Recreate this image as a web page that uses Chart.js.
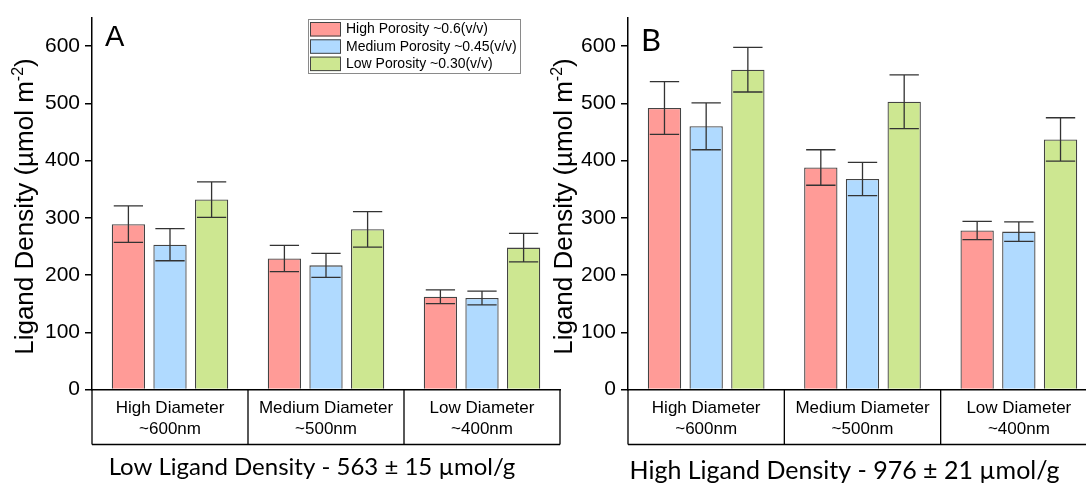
<!DOCTYPE html>
<html>
<head>
<meta charset="utf-8">
<script src="https://cdn.jsdelivr.net/npm/chart.js@4.4.0/dist/chart.umd.min.js"></script>
<style>
  html, body { margin: 0; padding: 0; background: #fff; overflow: hidden; }
  body { width: 1086px; height: 486px; position: relative; }
  #chartA { position: absolute; left: 0; top: 0; }
  #chartB { position: absolute; left: 540px; top: 0; }
</style>
</head>
<body>
<canvas id="chartA" width="566" height="486"></canvas>
<canvas id="chartB" width="560" height="486"></canvas>
<script>
// categories and series
var categories = [['High Diameter', '~600nm'], ['Medium Diameter', '~500nm'], ['Low Diameter', '~400nm']];
var seriesNames = ['High Porosity ~0.6(v/v)', 'Medium Porosity ~0.45(v/v)', 'Low Porosity ~0.30(v/v)'];
var yTicks = [0, 100, 200, 300, 400, 500, 600];

// A: low ligand density
var lowHighPor = [289, 229, 162];
var lowMedPor = [253, 217, 160];
var lowLowPor = [332, 280, 248];
var lowHighPorErr = [32, 23, 12];
var lowMedPorErr = [28, 21, 12];
var lowLowPorErr = [31, 31, 25];

// B: high ligand density
var highHighPor = [492, 388, 278];
var highMedPor = [460, 368, 276];
var highLowPor = [559, 503, 437];
var highHighPorErr = [46, 31, 16];
var highMedPorErr = [41, 29, 17];
var highLowPorErr = [39, 47, 38];

var fills = ['#ff9b97', '#b0daff', '#cde791'];
var edge = '#444444';
var sans = '"Liberation Sans", Arial, sans-serif';

// error bars drawn from each dataset's errors array
var errorBars = {
  id: 'errorBars',
  afterDatasetsDraw: function(chart) {
    var ctx = chart.ctx, y = chart.scales.y;
    chart.data.datasets.forEach(function(ds, i) {
      chart.getDatasetMeta(i).data.forEach(function(bar, j) {
        var top = y.getPixelForValue(ds.data[j] + ds.errors[j]);
        var bot = y.getPixelForValue(ds.data[j] - ds.errors[j]);
        var half = bar.width / 2 - 2;
        ctx.save();
        ctx.strokeStyle = '#333';
        ctx.lineWidth = 1.3;
        ctx.beginPath();
        ctx.moveTo(bar.x, top); ctx.lineTo(bar.x, bot);
        ctx.moveTo(bar.x - half, top); ctx.lineTo(bar.x + half, top);
        ctx.moveTo(bar.x - half, bot); ctx.lineTo(bar.x + half, bot);
        ctx.stroke();
        ctx.restore();
      });
    });
  }
};

// boxed category cells under the x axis
var categoryBox = {
  id: 'categoryBox',
  afterDraw: function(chart, args, opts) {
    var x = chart.scales.x, ctx = chart.ctx;
    var n = x.ticks.length, step = (x.right - x.left) / n;
    var bottom = x.top + opts.depth;
    ctx.save();
    ctx.strokeStyle = '#000';
    ctx.lineWidth = 1.3;
    ctx.beginPath();
    for (var i = 0; i <= n; i++) {
      var px = x.left + i * step;
      ctx.moveTo(px, x.top); ctx.lineTo(px, bottom);
    }
    ctx.moveTo(x.left, bottom); ctx.lineTo(x.right, bottom);
    ctx.stroke();
    ctx.restore();
  }
};

// panel letter, axis titles and boxed legend
var panelDeco = {
  id: 'panelDeco',
  afterDraw: function(chart, args, opts) {
    var ctx = chart.ctx, xs = chart.scales.x, ys = chart.scales.y;
    ctx.save();
    ctx.fillStyle = '#000';
    ctx.font = opts.letterFont;
    ctx.textBaseline = 'top';
    ctx.fillText(opts.letter, opts.letterX, opts.letterY);

    // x title
    ctx.font = opts.xTitleFont;
    ctx.textAlign = 'center';
    ctx.textBaseline = 'middle';
    ctx.fillText(opts.xTitle, (xs.left + xs.right) / 2 + opts.xTitleShift, opts.xTitleY);

    // y title with superscript
    var main = 'Ligand Density (\u00b5mol m', sup = '-2', close = ')';
    ctx.font = '26px ' + sans;
    var w1 = ctx.measureText(main).width, w3 = ctx.measureText(close).width;
    ctx.font = '16px ' + sans;
    var w2 = ctx.measureText(sup).width;
    var total = w1 + w2 + w3;
    ctx.translate(opts.yTitleX, (ys.top + ys.bottom) / 2 + opts.yTitleShift);
    ctx.rotate(-Math.PI / 2);
    ctx.textAlign = 'left';
    ctx.textBaseline = 'alphabetic';
    var sx = -total / 2;
    ctx.font = '26px ' + sans;
    ctx.fillText(main, sx, 9);
    ctx.font = '16px ' + sans;
    ctx.fillText(sup, sx + w1, -1);
    ctx.font = '26px ' + sans;
    ctx.fillText(close, sx + w1 + w2, 9);
    ctx.setTransform(1, 0, 0, 1, 0, 0);

    if (opts.legend) {
      var L = opts.legend;
      ctx.strokeStyle = '#8a8a8a';
      ctx.lineWidth = 1;
      ctx.strokeRect(L.x + 0.5, L.y + 0.5, L.w, L.h);
      ctx.font = '14px ' + sans;
      ctx.textAlign = 'left';
      ctx.textBaseline = 'middle';
      chart.data.datasets.forEach(function(ds, i) {
        var ry = L.y + 3 + i * 17.3;
        ctx.fillStyle = ds.backgroundColor;
        ctx.fillRect(L.x + 2, ry, 31, 14.5);
        ctx.strokeStyle = edge;
        ctx.strokeRect(L.x + 2.5, ry + 0.5, 30, 13.5);
        ctx.fillStyle = '#000';
        ctx.fillText(ds.label, L.x + 38, ry + 7.5);
      });
    }
    ctx.restore();
  }
};

function makeSets(a, b, c, ea, eb, ec) {
  return [a, b, c].map(function(vals, i) {
    return {
      label: seriesNames[i],
      data: vals,
      errors: [ea, eb, ec][i],
      backgroundColor: fills[i],
      borderColor: edge,
      borderWidth: 1.3,
      categoryPercentage: 0.8,
      barPercentage: 0.8
    };
  });
}

function makeOptions(yWidth, padRight, deco) {
  return {
    responsive: false,
    animation: false,
    layout: { padding: { top: 12, right: padRight, left: 0, bottom: 0 } },
    plugins: {
      legend: { display: false },
      tooltip: { enabled: false },
      categoryBox: { depth: 55 },
      panelDeco: deco
    },
    scales: {
      x: {
        grid: { display: false },
        border: { display: true, color: '#000', width: 1.5 },
        ticks: {
          color: '#000',
          padding: 0,
          maxRotation: 0,
          font: { family: sans, size: 17, lineHeight: 1.25 }
        },
        afterFit: function(s) { s.height = 96.5; }
      },
      y: {
        min: 0,
        max: 650,
        afterBuildTicks: function(s) {
          s.ticks = yTicks.map(function(v) { return { value: v }; });
        },
        grid: { display: true, drawOnChartArea: false, drawTicks: true, tickLength: 7, color: '#000', lineWidth: 1.5 },
        border: { display: true, color: '#000', width: 1.5 },
        ticks: {
          color: '#000',
          padding: 5,
          font: { family: sans, size: 21 }
        },
        afterFit: function(s) { s.width = yWidth; }
      }
    }
  };
}

var chartA = new Chart(document.getElementById('chartA').getContext('2d'), {
  type: 'bar',
  data: {
    labels: categories,
    datasets: makeSets(lowHighPor, lowMedPor, lowLowPor, lowHighPorErr, lowMedPorErr, lowLowPorErr)
  },
  options: makeOptions(92, 6, {
    letter: 'A', letterX: 105, letterY: 23,
    letterFont: '29px ' + sans,
    xTitle: 'Low Ligand Density - 563 \u00b1 15 \u00b5mol/g',
    xTitleFont: '24px Lato, "Open Sans", sans-serif',
    xTitleShift: -14, xTitleY: 467,
    yTitleX: 24, yTitleShift: 3,
    legend: { x: 308, y: 19, w: 212, h: 54 }
  }),
  plugins: [errorBars, categoryBox, panelDeco]
});

var chartB = new Chart(document.getElementById('chartB').getContext('2d'), {
  type: 'bar',
  data: {
    labels: categories,
    datasets: makeSets(highHighPor, highMedPor, highLowPor, highHighPorErr, highMedPorErr, highLowPorErr)
  },
  options: makeOptions(88, 3, {
    letter: 'B', letterX: 101, letterY: 25,
    letterFont: '31px Lato, "Open Sans", sans-serif',
    xTitle: 'High Ligand Density - 976 \u00b1 21 \u00b5mol/g',
    xTitleFont: '25px Lato, "Open Sans", sans-serif',
    xTitleShift: -18, xTitleY: 471,
    yTitleX: 23, yTitleShift: 3,
    legend: null
  }),
  plugins: [errorBars, categoryBox, panelDeco]
});
</script>
</body>
</html>
